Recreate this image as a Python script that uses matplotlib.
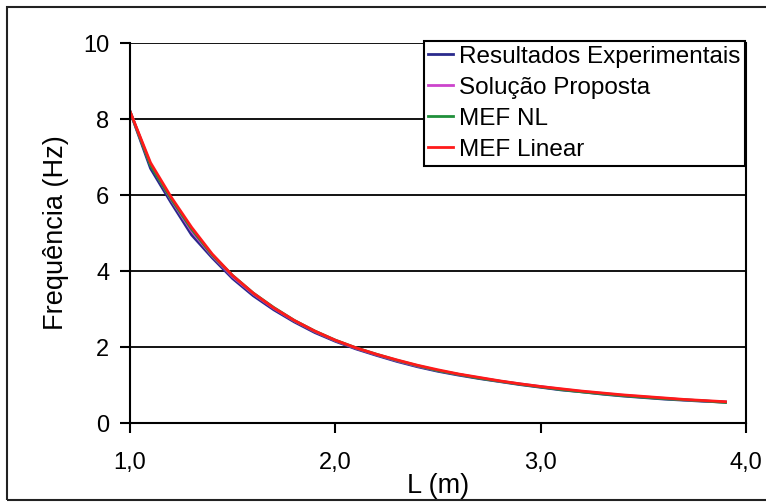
import matplotlib
matplotlib.use('Agg')
import matplotlib.pyplot as plt
from matplotlib.patches import Rectangle
from matplotlib.ticker import FuncFormatter

# comprimento L (m)
L = [1.0, 1.1, 1.2, 1.3, 1.4, 1.5, 1.6, 1.7, 1.8, 1.9,
     2.0, 2.1, 2.2, 2.3, 2.4, 2.5, 2.6, 2.7, 2.8, 2.9,
     3.0, 3.1, 3.2, 3.3, 3.4, 3.5, 3.6, 3.7, 3.8, 3.9]

# frequencias (Hz)
f_exp = [8.20, 6.70, 5.80, 4.95, 4.35, 3.80, 3.35, 2.98, 2.66, 2.38,
         2.15, 1.95, 1.78, 1.62, 1.48, 1.36, 1.26, 1.17, 1.09, 1.01,
         0.94, 0.87, 0.82, 0.76, 0.71, 0.67, 0.63, 0.60, 0.57, 0.55]
f_prop = [8.20, 6.80, 5.88, 5.05, 4.40, 3.85, 3.40, 3.02, 2.69, 2.41,
          2.17, 1.97, 1.80, 1.64, 1.50, 1.38, 1.28, 1.19, 1.10, 1.03,
          0.96, 0.89, 0.83, 0.78, 0.73, 0.69, 0.65, 0.61, 0.58, 0.55]
f_nl = [8.20, 6.78, 5.90, 5.10, 4.42, 3.88, 3.42, 3.04, 2.70, 2.42,
        2.18, 1.98, 1.81, 1.65, 1.51, 1.38, 1.28, 1.18, 1.10, 1.02,
        0.95, 0.88, 0.82, 0.77, 0.72, 0.68, 0.64, 0.61, 0.58, 0.54]
f_lin = [8.20, 6.85, 5.95, 5.15, 4.45, 3.88, 3.42, 3.03, 2.70, 2.42,
         2.18, 1.98, 1.81, 1.66, 1.52, 1.40, 1.29, 1.20, 1.11, 1.03,
         0.96, 0.90, 0.84, 0.79, 0.74, 0.70, 0.66, 0.62, 0.59, 0.56]

series = [
    ("Resultados Experimentais", f_exp, "#2a2a8c"),
    ("Solução Proposta", f_prop, "#cc44cc"),
    ("MEF NL", f_nl, "#1f8f3a"),
    ("MEF Linear", f_lin, "#ff1a1a"),
]

x_ticks = [1.0, 2.0, 3.0, 4.0]
y_ticks = [0, 2, 4, 6, 8, 10]

plt.rcParams['font.family'] = ['Liberation Sans', 'DejaVu Sans']

W, H = 766, 504
fig = plt.figure(figsize=(W / 100, H / 100), dpi=100)
fig.patch.set_facecolor('white')

# moldura externa (lado direito fica fora da imagem)
fig.patches.append(Rectangle((7 / W, 1 - 500 / H), 1.0, (500 - 7) / H,
                             transform=fig.transFigure, fill=False,
                             edgecolor='#222222', linewidth=1.5))

ax = fig.add_axes([130 / W, 1 - 423 / H, (746 - 130) / W, (423 - 43) / H])

for label, ys, c in series:
    ax.plot(L, ys, color=c, linewidth=2.0, label=label)

ax.set_xlim(1.0, 4.0)
ax.set_ylim(0, 10)
ax.set_xticks(x_ticks)
ax.set_yticks(y_ticks)
ax.xaxis.set_major_formatter(FuncFormatter(lambda v, p: f"{v:.1f}".replace('.', ',')))
ax.yaxis.grid(True, color='black', linewidth=1.3)
ax.set_axisbelow(True)
ax.spines['top'].set_visible(False)
for s in ['left', 'bottom', 'right']:
    ax.spines[s].set_linewidth(1.5)
ax.tick_params(direction='out', length=7, width=1.5, labelsize=17, pad=8)
ax.tick_params(axis='x', pad=14)

ax.set_xlabel("L (m)", fontsize=19.5, labelpad=-1)
ax.set_ylabel("Frequência (Hz)", fontsize=19.5, labelpad=10)

leg = ax.legend(loc='upper right', bbox_to_anchor=(745 / W, 1 - 41 / H),
                bbox_transform=fig.transFigure, fontsize=17.5,
                handlelength=1.0, handletextpad=0.25, borderpad=0.2,
                labelspacing=0.37, borderaxespad=0, fancybox=False,
                framealpha=1, edgecolor='black')
leg.get_frame().set_linewidth(1.5)

plt.savefig('out.png', dpi=100)
